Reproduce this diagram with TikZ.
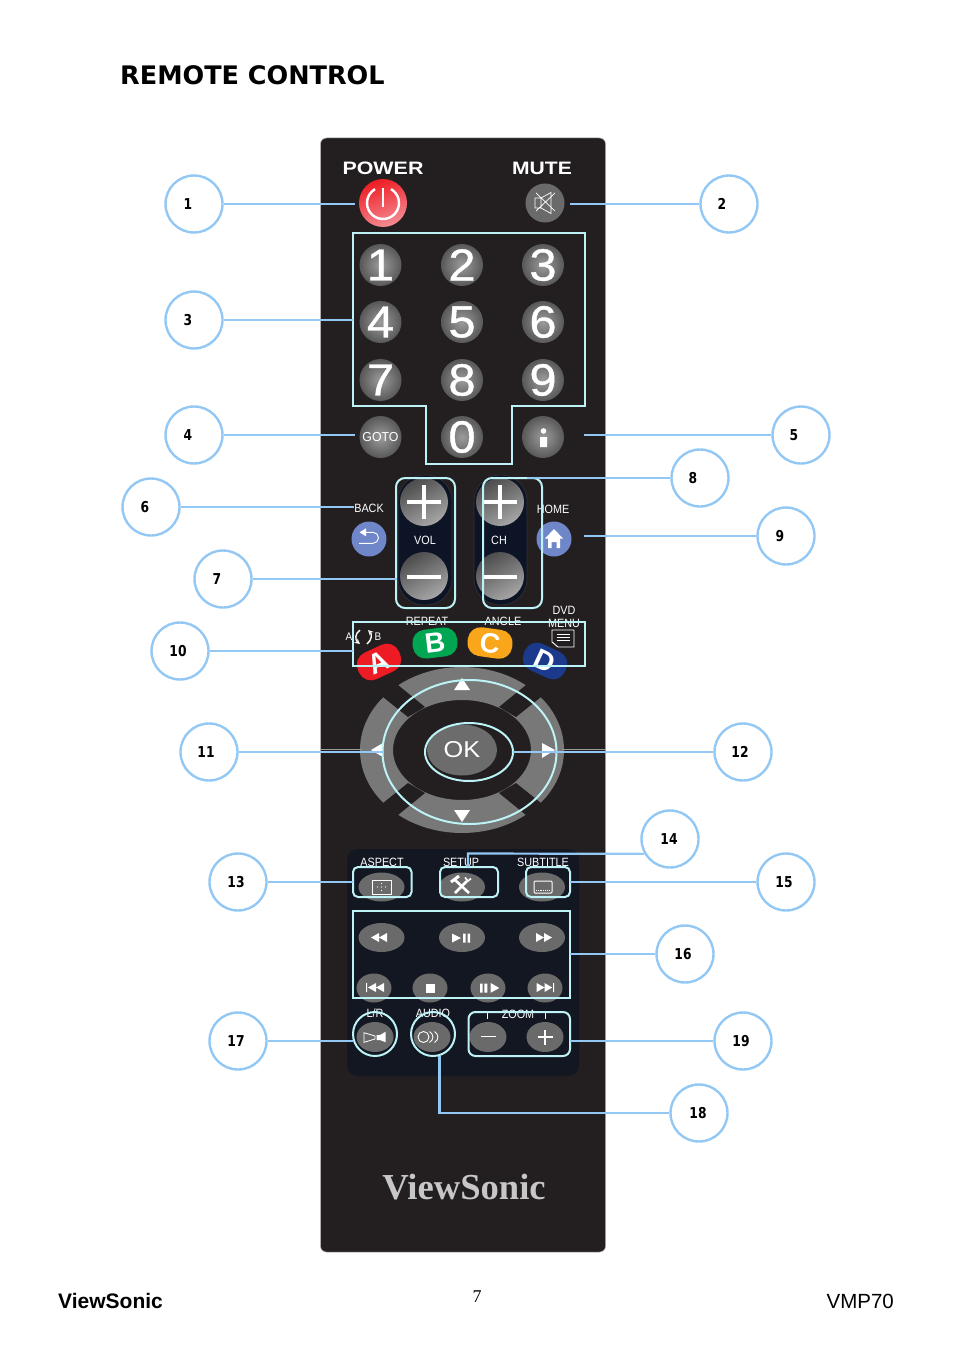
\documentclass[tikz,border=0pt]{standalone}
\usepackage{fontspec}
\setmainfont{Liberation Sans}
\newfontfamily\titlefont{DejaVu Sans}
\newfontfamily\seriffont{Liberation Serif}
\newfontfamily\numfont[FakeBold=0.9]{Liberation Sans}
\newcommand{\fsz}[1]{\fontsize{#1}{#1}\selectfont}
\definecolor{body}{HTML}{231F20}
\definecolor{panel}{HTML}{131722}
\definecolor{pill}{HTML}{0C1426}
\definecolor{hl}{HTML}{BDF3F6}
\definecolor{cline}{HTML}{93C8F5}
\definecolor{ringc}{HTML}{787878}
\definecolor{btn}{HTML}{6A6A6A}
\definecolor{bluebtn}{HTML}{6F86C8}
\definecolor{cbred}{HTML}{ED1C24}
\definecolor{cbgreen}{HTML}{00A651}
\definecolor{cborange}{HTML}{FAA61A}
\definecolor{cbblue}{HTML}{1B3A8C}
\definecolor{redlight}{HTML}{F58C94}
\definecolor{numin}{HTML}{9C9C9C}
\definecolor{numout}{HTML}{585858}
\tikzset{
  callout/.style={circle,draw=cline,line width=2.4pt,fill=white,minimum size=57pt,inner sep=0pt},
  calloutnum/.style={inner sep=0pt,xscale=.82,font=\titlefont\bfseries\fsz{15}},
  conn/.style={draw=cline,line width=2.2pt},
  connthin/.style={draw=cline,line width=1.5pt},
  hilite/.style={draw=hl,line width=2pt},
  numbtn/.style={circle,minimum size=42pt,inner sep=0pt,inner color=numin,outer color=numout,text=white},
  tinylabel/.style={text=white,inner sep=0pt,font=\fsz{12},xscale=.9},
  darkbtn/.style={fill=btn},
  colorbtn/.style={rounded corners=13pt,minimum height=29pt,minimum width=45pt,inner sep=0pt,text=white,font=\bfseries\fsz{28}},
}
\begin{document}
\begin{tikzpicture}[x=1pt,y=-1pt]
\useasboundingbox (0,0) rectangle (954,1351);
\fill[white] (0,0) rectangle (954,1351);
\node[anchor=west,inner sep=0pt,font=\titlefont\bfseries\fsz{25.5}] (title) at (120,75) {REMOTE CONTROL};
\node[anchor=west,inner sep=0pt,font=\bfseries\fsz{21}] (footl) at (58,1301) {ViewSonic};
\node[inner sep=0pt,font=\seriffont\fsz{18}] (footc) at (477,1297) {7};
\node[anchor=east,inner sep=0pt,font=\fsz{20.5}] (footr) at (894,1301) {VMP70};
% body
\filldraw[fill=body,draw=gray!60,line width=.5pt,rounded corners=6pt] (320.5,138) rectangle (605.5,1252);
\fill[panel,rounded corners=11pt] (347,849) rectangle (579,1076);
\node[text=white,inner sep=0pt,font=\bfseries\fsz{18},xscale=1.19] (powert) at (383,168) {POWER};
\node[text=white,inner sep=0pt,font=\bfseries\fsz{18},xscale=1.17] (mutet) at (542,168) {MUTE};
\node[text=white!78!black,inner sep=0pt,font=\seriffont\bfseries\fsz{36.6}] (logo) at (464,1187) {ViewSonic};
% power
\shade[left color=cbred,right color=redlight,shading angle=20] (383,203) circle (24);
\draw[white,line width=2.4pt] ([shift={(383,203)}]-60:16) arc (-60:240:16);
\draw[white,line width=2.4pt] (383,188) -- (383,207);
% mute
\fill[btn] (545,203) circle (19.5);
\draw[white,line width=.7pt] (535,198) rectangle (541,208) (541,198) -- (551,192.5) -- (551,213.5) -- (541,208) (536,193) -- (555,211) (555,193) -- (536,211);
% number buttons
\foreach \n/\x/\y in {1/380.5/265,2/462/265,3/543/265,4/380.5/322,5/462/322,6/543/322,7/380.5/380,8/462/380,9/543/380,0/462/437}{
  \node[numbtn] (num\n) at (\x,\y) {};
  \node[text=white,inner sep=0pt,font=\numfont\fsz{45},xscale=1.08] (dig\n) at (\x,\y) {\n};
}
\node[numbtn,font=\fsz{13},text=white] (goto) at (380.5,437) {\scalebox{.95}[1]{GOTO}};
\node[numbtn] (info) at (543,437) {};
\fill[white] (543.5,431) circle (2.8) (540,437) rectangle (547,447);
% back / home
\node[tinylabel] (back) at (369,508) {BACK};
\node[tinylabel] (home) at (553,509) {HOME};
\fill[bluebtn] (369,539) circle (17.5) (554,539) circle (17.5);
\draw[white,line width=.9pt] (365,532.3) -- (373,532.3) arc (-90:90:5.5) -- (359,543.3);
\fill[white] (359.5,532.3) -- (366,528.3) -- (366,536.3) -- cycle;
\fill[white] (554,529) -- (563,538.5) -- (560,538.5) -- (560,548) -- (556.5,548) -- (556.5,542) -- (551.5,542) -- (551.5,548) -- (548,548) -- (548,538.5) -- (545,538.5) -- cycle;
% vol/ch
\fill[pill,rounded corners=26pt] (398,475) rectangle (452,605);
\fill[pill,rounded corners=26pt] (474,475) rectangle (527,605);
\draw[gray!40!black,line width=.6pt,rounded corners=26pt] (398,475) rectangle (452,605) (474,475) rectangle (527,605);
\foreach \x in {424,500}{
  \shade[left color=black!70!white,right color=gray!70!white,shading angle=30] (\x,502) circle (24);
  \shade[left color=black!70!white,right color=gray!70!white,shading angle=30] (\x,576) circle (24);
  \draw[white,line width=4pt] (\x-17,502) -- (\x+17,502) (\x,485) -- (\x,519) (\x-17,577) -- (\x+17,577);
}
\node[tinylabel] (vol) at (425,540) {VOL};
\node[tinylabel] (ch) at (499,540) {CH};
% nav ring
\fill[ringc,even odd rule] (462,750) ellipse [x radius=102,y radius=83] (462,750) ellipse [x radius=69,y radius=50];
\foreach \sx/\ox in {1/0,-1/924}\foreach \sy/\oy in {1/0,-1/1500}
  \fill[body] (\ox+\sx*425,\oy+\sy*707) -- (\ox+\sx*371,\oy+\sy*663) -- (\ox+\sx*358,\oy+\sy*677) -- (\ox+\sx*408,\oy+\sy*717) -- cycle;
\draw[gray!80,line width=.7pt] (320.5,749) -- (362,749) (562,749) -- (605.5,749);
\fill[white] (462,678) -- (470,690) -- (454,690) -- cycle (462,822) -- (470,810) -- (454,810) -- cycle (371,750) -- (383,743) -- (383,757) -- cycle (555,750) -- (542,743) -- (542,758) -- cycle;
\fill[gray!85!black] (462,750) ellipse [x radius=35,y radius=25.5];
\node[text=white,inner sep=0pt,font=\fsz{23},xscale=1.1] (ok) at (462,750) {OK};
% color buttons
\node[tinylabel,font=\fsz{11}] (la) at (349,637) {A};
\node[tinylabel,font=\fsz{11}] (lb) at (378,637) {B};
\draw[white,line width=1.4pt,-stealth] (360,630) .. controls (355,633) and (355,640) .. (360,644);
\draw[white,line width=1.4pt,-stealth] (367,644) .. controls (372,640) and (372,634) .. (368,630);
\node[tinylabel] (repeat) at (427,621) {REPEAT};
\node[tinylabel] (angle) at (503,621) {ANGLE};
\node[tinylabel] (dvd) at (564,610) {DVD};
\node[tinylabel] (menu) at (564,623) {MENU};
\node[colorbtn,fill=cbred,rotate=25] (ba) at (379,662) {A};
\node[colorbtn,fill=cbgreen,rotate=7] (bb) at (435,643) {B};
\node[colorbtn,fill=cborange,rotate=-8] (bc) at (490,643) {C};
\node[colorbtn,fill=cbblue,rotate=-25] (bd) at (545,661) {D};
\draw[white,line width=.9pt] (552,630) -- (574,630) -- (574,647) -- (558,647) -- (552,642) -- cycle;
\draw[white,line width=.8pt] (557,634) -- (570,634) (557,637) -- (570,637) (557,640) -- (570,640);
% lower labels
\node[tinylabel] (aspect) at (382,862) {ASPECT};
\node[tinylabel] (setup) at (461,862) {SETUP};
\node[tinylabel] (subtitle) at (543,862) {SUBTITLE};
\node[tinylabel] (lr) at (375,1013) {L/R};
\node[tinylabel] (audio) at (433,1013) {AUDIO};
\node[tinylabel] (zoom) at (518,1014) {ZOOM};
\draw[white,line width=.8pt] (487,1013) -- (487,1019) (545,1013) -- (545,1019);
% ellipses
\foreach \x in {381.5,462,542}{
  \fill[btn] (\x,887) ellipse [x radius=23,y radius=14.5];
  \fill[btn] (\x,937.5) ellipse [x radius=23,y radius=14.5];
}
\foreach \x in {374,430,488,545}
  \fill[btn] (\x,988) ellipse [x radius=17.5,y radius=14.5];
\foreach \x in {375,432,488,545}
  \fill[btn] (\x,1037) ellipse [x radius=18.5,y radius=15];
% icons
\draw[white,line width=.9pt] (372,880) rectangle (391,894);
\fill[white] (381.5,883.5) circle (.7) (381.5,890.5) circle (.7) (377.5,887) circle (.7) (385.5,887) circle (.7) (381.5,887) circle (.7);
\draw[white,line width=2.6pt] (455,880) -- (469,893) (467,881) -- (455,893);
\draw[white,line width=3pt] (451,882) -- (459,876);
\draw[white,line width=1.6pt] (465,877.5) -- (468,881) -- (471,878.5);
\draw[white,line width=1pt,rounded corners=1pt] (534,881) rectangle (552,893);
\draw[white,line width=.8pt,densely dotted] (536,890) -- (550,890);
% transport
\fill[white] (371,937.5) -- (379,933) -- (379,942) -- cycle (379,937.5) -- (387,933) -- (387,942) -- cycle;
\fill[white] (452,933.5) -- (461,938) -- (452,942.5) -- cycle (463,933.5) rectangle (465.5,942.5) (467.5,933.5) rectangle (470,942.5);
\fill[white] (552,937.5) -- (544,933) -- (544,942) -- cycle (544,937.5) -- (536,933) -- (536,942) -- cycle;
\fill[white] (366,983) rectangle (367,992) (368,987.5) -- (376,983) -- (376,992) -- cycle (376,987.5) -- (384,983) -- (384,992) -- cycle;
\fill[white] (426,984.3) rectangle (435,992.7);
\fill[white] (480,983.5) rectangle (482.7,992.5) (484.3,983.5) rectangle (487.3,992.5) (490.7,983) -- (499.3,988) -- (490.7,992.7) -- cycle;
\fill[white] (536.7,983) -- (544.5,987.5) -- (536.7,992) -- cycle (544.5,983) -- (552.2,987.5) -- (544.5,992) -- cycle (553,983) rectangle (554,992);
% L/R, audio, zoom icons
\draw[white,line width=.8pt] (364,1032.7) -- (375,1036) -- (375,1039) -- (364,1042.3) -- cycle;
\fill[white] (376.7,1035) -- (380,1035) -- (385.7,1031.7) -- (385.7,1042.3) -- (380,1040) -- (376.7,1040) -- cycle;
\draw[white,line width=.9pt] (423.5,1037) circle (5.5);
\draw[white,line width=.9pt] (429.5,1031.5) .. controls (434,1034) and (434,1040) .. (429.5,1042.5) (434.5,1031.5) .. controls (439,1034) and (439,1040) .. (434.5,1042.5);
\draw[white,line width=.9pt] (481,1036.7) -- (496,1036.7);
\draw[white,line width=1.8pt] (537.5,1037) -- (552.5,1037) (545,1029.5) -- (545,1044.5);
% highlights
\draw[hilite] (353,233) -- (585,233) -- (585,406) -- (512,406) -- (512,464) -- (426,464) -- (426,406) -- (353,406) -- cycle;
\draw[hilite,rounded corners=9pt] (396,478) rectangle (455,608);
\draw[hilite,rounded corners=9pt] (483,478) rectangle (542,608);
\draw[hilite] (353,622) rectangle (585,666);
\draw[hilite] (469.5,752) ellipse [x radius=87,y radius=72];
\draw[hilite] (469,752) ellipse [x radius=44,y radius=29];
\draw[hilite,rounded corners=5pt] (353,867) rectangle (411.5,897);
\draw[hilite,rounded corners=5pt] (440,867) rectangle (498,897);
\draw[hilite,rounded corners=5pt] (526,867) rectangle (570,897);
\draw[hilite] (353,911) rectangle (570,998);
\draw[hilite] (375,1034) circle (22);
\draw[hilite] (433,1034) circle (22);
\draw[hilite,rounded corners=7pt] (468.5,1012) rectangle (570,1056);
% callouts
\foreach \n/\x/\y/\tx in {1/194/204/188,2/729/204/722,3/194/320/188,4/194/435/188,5/801/435/794,6/151/507/145,7/223/579/217,8/700/478/693,9/786/536/780,10/180/651/178,11/209/752/206,12/743/752/740,13/238/882/236,14/670/839/669,15/786/882/784,16/685/954/683,17/238/1041/236,18/699/1113/698,19/743/1041/741}{
  \node[callout] (c\n) at (\x,\y) {};
  \node[calloutnum] (cn\n) at (\tx,\y) {\n};
}
\foreach \n/\x/\y in {1/355/204,2/570/204,4/355/435,5/584/435,6/354/507,9/584/536,17/353/1041}
  \coordinate (t\n) at (\x,\y);
\foreach \n/\x/\y in {3/353/320,7/397/579,8/527/478,10/353/651,11/383/752,12/513/752,13/353/882,15/570/882,16/570/954,19/570/1041}
  \coordinate (t\n) at (\x,\y);
\coordinate (t14a) at (468,853.5);
\coordinate (t14b) at (468,867);
\coordinate (t18a) at (439.5,1113);
\coordinate (t18b) at (439.5,1056);
\foreach \n in {1,2,4,5,6,9,17}
  \draw[connthin] (c\n) -- (t\n);
\foreach \n in {3,7,8,10,11,12,13,15,16,19}
  \draw[conn] (c\n) -- (t\n);
\draw[conn] (c14.210) -- (t14a) -- (t14b);
\draw[conn] (c18) -- (t18a) -- (t18b);
\end{tikzpicture}
\end{document}
